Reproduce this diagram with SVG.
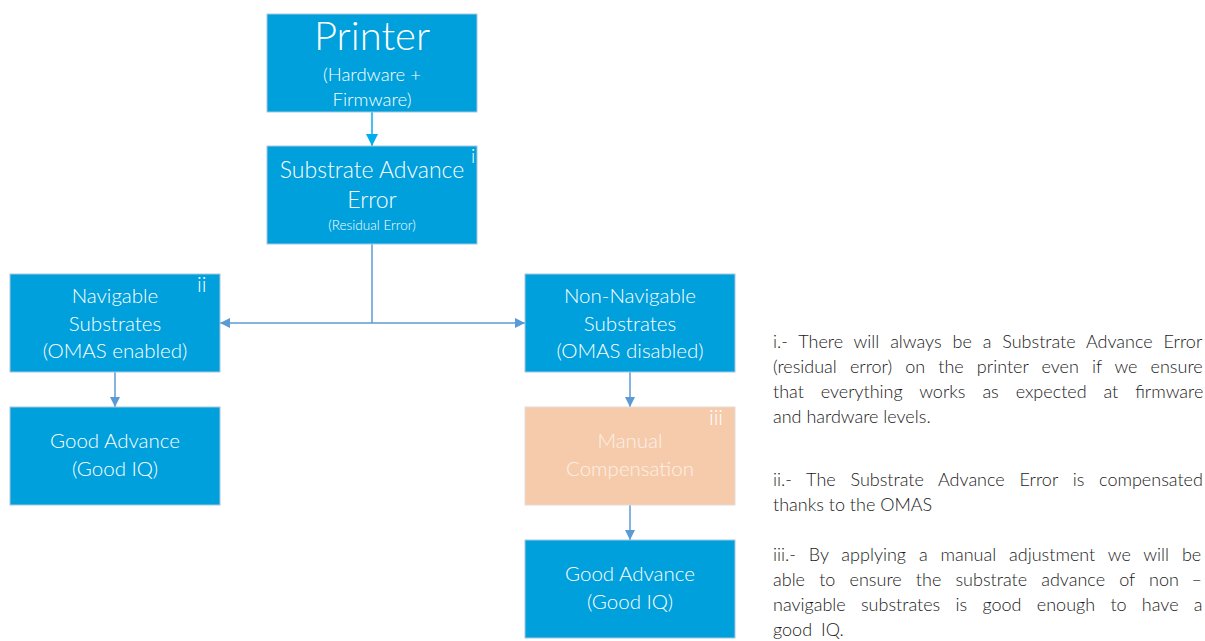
<svg xmlns="http://www.w3.org/2000/svg" width="1205" height="641" viewBox="0 0 1205 641">
<style>
.box{fill:#00a0dc;stroke:#a9c6dc;stroke-width:1}
.peach{fill:#f6cbac;stroke:#e3dbd5;stroke-width:1}
.t{font-family:Lato,"Open Sans",sans-serif;font-weight:300;fill:#fff;text-anchor:middle}
.tm{font-family:Lato,"Open Sans",sans-serif;font-weight:300;fill:#fdf0e6;text-anchor:middle}
.n{font-family:Lato,"Open Sans",sans-serif;font-weight:300;fill:#fff}
.p{font-family:Lato,"Open Sans",sans-serif;font-weight:300;fill:#1a1a1a;font-size:18px}
.c{stroke:#5b9bd5;stroke-width:1.5;fill:none}
.c2{stroke:#00aeef;stroke-width:1.5;fill:none}
</style>
<defs>
<marker id="a" markerWidth="10" markerHeight="10" refX="10" refY="5" orient="auto" markerUnits="userSpaceOnUse"><path d="M0,0 L10,5 L0,10 z" fill="#5b9bd5"/></marker>
<marker id="a2" markerWidth="12" markerHeight="12" refX="12" refY="6" orient="auto" markerUnits="userSpaceOnUse"><path d="M0,0 L12,6 L0,12 z" fill="#00aeef"/></marker>
</defs>
<rect width="1205" height="641" fill="#fff"/>
<g id="connectors">
<line class="c2" x1="372" y1="112" x2="372" y2="146" marker-end="url(#a2)"/>
<polyline class="c" points="372,244 372,323"/>
<line class="c" x1="372" y1="323" x2="220" y2="323" marker-end="url(#a)"/>
<line class="c" x1="372" y1="323" x2="525" y2="323" marker-end="url(#a)"/>
<line class="c" x1="115" y1="372" x2="115" y2="407" marker-end="url(#a)"/>
<line class="c" x1="630" y1="372" x2="630" y2="407" marker-end="url(#a)"/>
<line class="c" x1="630" y1="505" x2="630" y2="540" marker-end="url(#a)"/>
</g>
<g id="printer">
<rect class="box" x="267" y="14" width="210" height="98"/>
<text class="t" x="372" y="50" font-size="40">Printer</text>
<text class="t" x="372" y="81" font-size="18.5">(Hardware +</text>
<text class="t" x="372" y="106" font-size="18.5">Firmware)</text>
</g>
<g id="sae">
<rect class="box" x="267" y="146" width="210" height="98"/>
<text class="t" x="372" y="178" font-size="23">Substrate Advance</text>
<text class="t" x="372" y="208" font-size="23">Error</text>
<text class="t" x="372" y="230" font-size="13.5">(Residual Error)</text>
<text class="n" x="471" y="163" font-size="19">i</text>
</g>
<g id="navigable">
<rect class="box" x="10" y="274" width="210" height="98"/>
<text class="t" x="115" y="303" font-size="20.5">Navigable</text>
<text class="t" x="115" y="331" font-size="20.5">Substrates</text>
<text class="t" x="115" y="358" font-size="20.5">(OMAS enabled)</text>
<text class="n" x="197" y="292" font-size="21">ii</text>
</g>
<g id="good-left">
<rect class="box" x="10" y="407" width="210" height="98"/>
<text class="t" x="115" y="448" font-size="20.5">Good Advance</text>
<text class="t" x="115" y="476" font-size="20.5">(Good IQ)</text>
</g>
<g id="non-navigable">
<rect class="box" x="525" y="274" width="210" height="98"/>
<text class="t" x="630" y="303" font-size="20.5">Non-Navigable</text>
<text class="t" x="630" y="331" font-size="20.5">Substrates</text>
<text class="t" x="630" y="358" font-size="20.5">(OMAS disabled)</text>
</g>
<g id="manual">
<rect class="peach" x="525" y="407" width="210" height="98"/>
<text class="tm" x="630" y="448" font-size="20.5">Manual</text>
<text class="tm" x="630" y="476" font-size="20.5">Compensation</text>
<text class="n" x="709" y="425" font-size="21">iii</text>
</g>
<g id="good-right">
<rect class="box" x="525" y="540" width="210" height="98"/>
<text class="t" x="630" y="581" font-size="20.5">Good Advance</text>
<text class="t" x="630" y="609" font-size="20.5">(Good IQ)</text>
</g>
<g id="notes">
<text class="p" x="773" y="348" word-spacing="6">i.- There will always be a Substrate Advance Error</text>
<text class="p" x="773" y="373" word-spacing="8.2">(residual error) on the printer even if we ensure</text>
<text class="p" x="773" y="398" word-spacing="12">that everything works as expected at firmware</text>
<text class="p" x="773" y="423">and hardware levels.</text>
<text class="p" x="773" y="486" word-spacing="9.9">ii.- The Substrate Advance Error is compensated</text>
<text class="p" x="773" y="511">thanks to the OMAS</text>
<text class="p" x="773" y="561" word-spacing="8">iii.- By applying a manual adjustment we will be</text>
<text class="p" x="773" y="586" word-spacing="9.3">able to ensure the substrate advance of non</text>
<text class="p" x="1202" y="586" text-anchor="end">–</text>
<text class="p" x="773" y="611" word-spacing="10.4">navigable substrates is good enough to have a</text>
<text class="p" x="773" y="636" word-spacing="4">good IQ.</text>
</g>
</svg>
